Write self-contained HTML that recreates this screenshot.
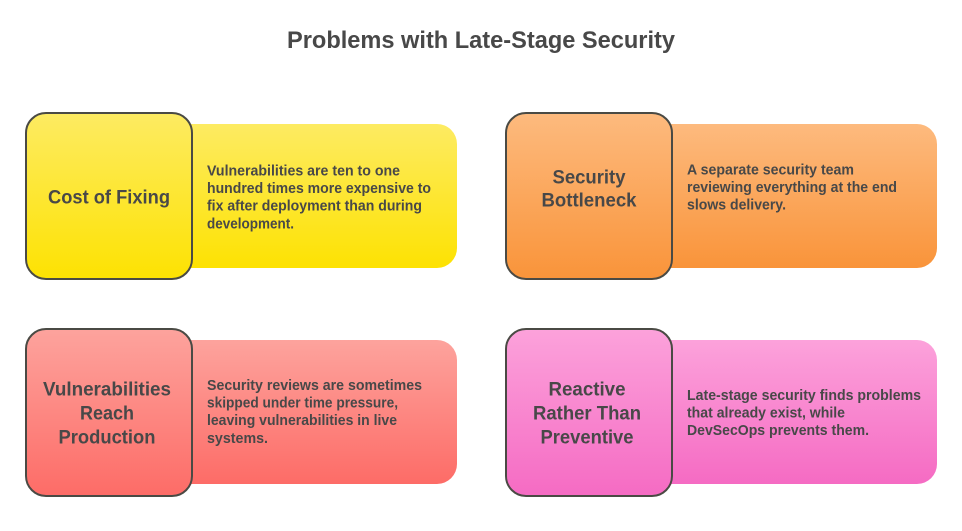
<!DOCTYPE html>
<html>
<head>
<meta charset="utf-8">
<style>
  html, body { margin: 0; padding: 0; background: #ffffff; }
  body { width: 962px; height: 531px; overflow: hidden; }
  svg { display: block; }
  text { font-family: "Liberation Sans", Arial, sans-serif; font-weight: bold; fill: #484848; }
  .lbl { font-size: 19.4px; }
  .desc { font-size: 14.8px; }
</style>
</head>
<body>
<svg width="962" height="531" viewBox="0 0 962 531" xmlns="http://www.w3.org/2000/svg">
  <defs>
    <linearGradient id="gy" x1="0" y1="0" x2="0" y2="1">
      <stop offset="0" stop-color="#fdeb62"/>
      <stop offset="1" stop-color="#fde202"/>
    </linearGradient>
    <linearGradient id="go" x1="0" y1="0" x2="0" y2="1">
      <stop offset="0" stop-color="#fdba7e"/>
      <stop offset="1" stop-color="#f9943a"/>
    </linearGradient>
    <linearGradient id="gr" x1="0" y1="0" x2="0" y2="1">
      <stop offset="0" stop-color="#fda39d"/>
      <stop offset="1" stop-color="#fd6c67"/>
    </linearGradient>
    <linearGradient id="gp" x1="0" y1="0" x2="0" y2="1">
      <stop offset="0" stop-color="#fca2db"/>
      <stop offset="1" stop-color="#f56bc3"/>
    </linearGradient>
  </defs>

  <!-- Title -->
  <text x="481" y="48" text-anchor="middle" font-size="23.6" fill="#4a4a4a" textLength="388" lengthAdjust="spacingAndGlyphs">Problems with Late-Stage Security</text>

  <!-- Box 1: Yellow -->
  <rect x="160" y="124" width="297" height="144" rx="20" ry="20" fill="url(#gy)"/>
  <rect x="26" y="113" width="166" height="166" rx="20" ry="20" fill="url(#gy)" stroke="#4a4a44" stroke-width="2"/>
  <text class="lbl" x="109" y="203.5" text-anchor="middle" textLength="122" lengthAdjust="spacingAndGlyphs">Cost of Fixing</text>
  <text class="desc" x="207" y="175.3" textLength="193" lengthAdjust="spacingAndGlyphs">Vulnerabilities are ten to one</text>
  <text class="desc" x="207" y="193" textLength="224" lengthAdjust="spacingAndGlyphs">hundred times more expensive to</text>
  <text class="desc" x="207" y="210.7" textLength="215" lengthAdjust="spacingAndGlyphs">fix after deployment than during</text>
  <text class="desc" x="207" y="228.4" textLength="87" lengthAdjust="spacingAndGlyphs">development.</text>

  <!-- Box 2: Orange -->
  <rect x="640" y="124" width="297" height="144" rx="20" ry="20" fill="url(#go)"/>
  <rect x="506" y="113" width="166" height="166" rx="20" ry="20" fill="url(#go)" stroke="#4a4a44" stroke-width="2"/>
  <text class="lbl" x="589" y="183.5" text-anchor="middle" textLength="73" lengthAdjust="spacingAndGlyphs">Security</text>
  <text class="lbl" x="589" y="206.5" text-anchor="middle" textLength="95" lengthAdjust="spacingAndGlyphs">Bottleneck</text>
  <text class="desc" x="687" y="174.3" textLength="167" lengthAdjust="spacingAndGlyphs">A separate security team</text>
  <text class="desc" x="687" y="192.2" textLength="210" lengthAdjust="spacingAndGlyphs">reviewing everything at the end</text>
  <text class="desc" x="687" y="209.6" textLength="99" lengthAdjust="spacingAndGlyphs">slows delivery.</text>

  <!-- Box 3: Red -->
  <rect x="160" y="340" width="297" height="144" rx="20" ry="20" fill="url(#gr)"/>
  <rect x="26" y="329" width="166" height="167" rx="20" ry="20" fill="url(#gr)" stroke="#4a4a44" stroke-width="2"/>
  <text class="lbl" x="107" y="395.5" text-anchor="middle" textLength="128" lengthAdjust="spacingAndGlyphs">Vulnerabilities</text>
  <text class="lbl" x="107" y="419.5" text-anchor="middle" textLength="54" lengthAdjust="spacingAndGlyphs">Reach</text>
  <text class="lbl" x="107" y="443.5" text-anchor="middle" textLength="97" lengthAdjust="spacingAndGlyphs">Production</text>
  <text class="desc" x="207" y="390" textLength="215" lengthAdjust="spacingAndGlyphs">Security reviews are sometimes</text>
  <text class="desc" x="207" y="407.6" textLength="191" lengthAdjust="spacingAndGlyphs">skipped under time pressure,</text>
  <text class="desc" x="207" y="425.2" textLength="190" lengthAdjust="spacingAndGlyphs">leaving vulnerabilities in live</text>
  <text class="desc" x="207" y="442.8" textLength="61" lengthAdjust="spacingAndGlyphs">systems.</text>

  <!-- Box 4: Pink -->
  <rect x="640" y="340" width="297" height="144" rx="20" ry="20" fill="url(#gp)"/>
  <rect x="506" y="329" width="166" height="167" rx="20" ry="20" fill="url(#gp)" stroke="#4a4a44" stroke-width="2"/>
  <text class="lbl" x="587" y="395.5" text-anchor="middle" textLength="77" lengthAdjust="spacingAndGlyphs">Reactive</text>
  <text class="lbl" x="587" y="419.5" text-anchor="middle" textLength="108" lengthAdjust="spacingAndGlyphs">Rather Than</text>
  <text class="lbl" x="587" y="443.5" text-anchor="middle" textLength="93" lengthAdjust="spacingAndGlyphs">Preventive</text>
  <text class="desc" x="687" y="400" textLength="234" lengthAdjust="spacingAndGlyphs">Late-stage security finds problems</text>
  <text class="desc" x="687" y="417.5" textLength="158" lengthAdjust="spacingAndGlyphs">that already exist, while</text>
  <text class="desc" x="687" y="435" textLength="182" lengthAdjust="spacingAndGlyphs">DevSecOps prevents them.</text>
</svg>
</body>
</html>
